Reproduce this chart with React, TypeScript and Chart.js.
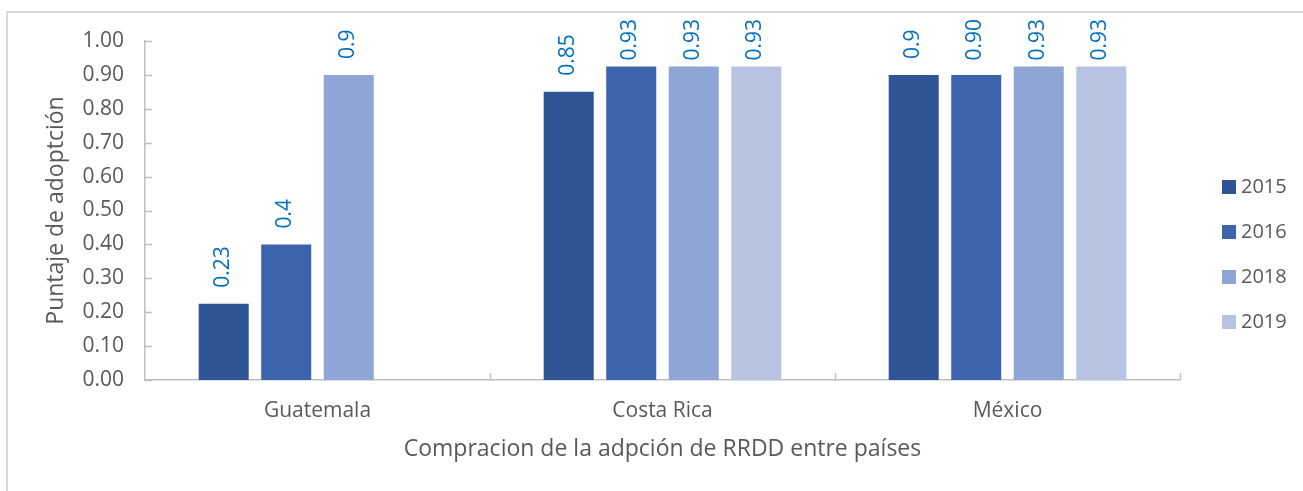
import React, { useEffect, useRef } from "react";
import { Chart, registerables } from "chart.js";

Chart.register(...registerables);

const categories = ["Guatemala", "Costa Rica", "México"];
const seriesNames = ["2015", "2016", "2018", "2019"];
const values2015 = [0.225, 0.85, 0.9];
const values2016 = [0.4, 0.925, 0.9];
const values2018 = [0.9, 0.925, 0.925];
const values2019 = [null, 0.925, 0.925];
const labels2015 = ["0.23", "0.85", "0.9"];
const labels2016 = ["0.4", "0.93", "0.90"];
const labels2018 = ["0.9", "0.93", "0.93"];
const labels2019 = ["", "0.93", "0.93"];
const seriesColors = ["#2F5597", "#3B64AD", "#8FA5D5", "#B8C3E3"];
const yTitle = "Puntaje de adoptción";
const xTitle = "Compracion de la adpción de RRDD entre países";

const seriesValues = [values2015, values2016, values2018, values2019];
const seriesLabels = [labels2015, labels2016, labels2018, labels2019];

const FONT = '"Open Sans", "Liberation Sans", sans-serif';
const AXIS_GRAY = "#BFBFBF";
const TEXT_GRAY = "#595959";
const LABEL_BLUE = "#0070C0";

const decorPlugin = {
  id: "decor",
  beforeDraw(chart: any) {
    const ctx = chart.ctx;
    ctx.save();
    ctx.fillStyle = "#FFFFFF";
    ctx.fillRect(0, 0, chart.width, chart.height);
    ctx.strokeStyle = "#D9D9D9";
    ctx.lineWidth = 2;
    ctx.beginPath();
    ctx.moveTo(7, chart.height + 2);
    ctx.lineTo(7, 12);
    ctx.lineTo(chart.width + 2, 12);
    ctx.stroke();
    ctx.restore();
  },
  afterDraw(chart: any) {
    const ctx = chart.ctx;
    const xs = chart.scales.x;
    const ys = chart.scales.y;
    const area = chart.chartArea;
    ctx.save();
    // inner tick marks
    ctx.strokeStyle = AXIS_GRAY;
    ctx.lineWidth = 1.5;
    ctx.beginPath();
    ys.ticks.forEach((t: any) => {
      const py = Math.round(ys.getPixelForValue(t.value)) + 0.5;
      ctx.moveTo(area.left, py);
      ctx.lineTo(area.left + 7, py);
    });
    for (let i = 0; i < categories.length; i++) {
      const px = Math.round(xs.getPixelForValue(i + 0.5)) + 0.5;
      ctx.moveTo(px, area.bottom);
      ctx.lineTo(px, area.bottom - 7);
    }
    ctx.stroke();

    // data labels (rotated)
    ctx.font = "21px " + FONT;
    ctx.fillStyle = LABEL_BLUE;
    ctx.textAlign = "left";
    ctx.textBaseline = "middle";
    chart.data.datasets.forEach((ds: any, i: number) => {
      const meta = chart.getDatasetMeta(i);
      meta.data.forEach((el: any, j: number) => {
        const v = ds.data[j];
        if (v === null || v === undefined) return;
        const text = seriesLabels[i][j];
        const w = ctx.measureText(text).width;
        const yb = Math.max(el.y - 16, 19 + w);
        ctx.save();
        ctx.translate(el.x - 1, yb);
        ctx.rotate(-Math.PI / 2);
        ctx.fillText(text, 0, 0);
        ctx.restore();
      });
    });

    // legend
    ctx.textBaseline = "middle";
    ctx.font = "20px " + FONT;
    seriesNames.forEach((name, i) => {
      const cy = 187 + i * 45;
      ctx.fillStyle = seriesColors[i];
      ctx.fillRect(1222, cy - 7, 14, 14);
      ctx.fillStyle = TEXT_GRAY;
      ctx.fillText(name, 1241, cy);
    });
    ctx.restore();
  },
};

export default function App() {
  const ref = useRef<HTMLCanvasElement | null>(null);
  useEffect(() => {
    if (!ref.current) return;
    const chart = new Chart(ref.current, {
      type: "bar",
      data: {
        labels: categories,
        datasets: seriesNames.map((name, i) => ({
          label: name,
          data: seriesValues[i],
          backgroundColor: seriesColors[i],
          borderWidth: 0,
          categoryPercentage: 0.725,
          barPercentage: 0.8,
        })),
      },
      options: {
        responsive: false,
        animation: false,
        layout: { padding: { top: 41, right: 123, bottom: 0, left: 0 } },
        plugins: {
          legend: { display: false },
          tooltip: { enabled: false },
        },
        scales: {
          x: {
            grid: { display: false, drawTicks: false },
            border: { display: true, color: AXIS_GRAY, width: 1.5 },
            ticks: { color: TEXT_GRAY, font: { family: FONT, size: 21 }, padding: 18 },
            title: {
              display: true,
              text: xTitle,
              color: TEXT_GRAY,
              font: { family: FONT, size: 23 },
              padding: { top: 0, bottom: 28 },
            },
            afterFit: (s: any) => {
              s.height = 111;
            },
          },
          y: {
            min: 0,
            max: 1,
            ticks: {
              stepSize: 0.1,
              color: TEXT_GRAY,
              font: { family: FONT, size: 21 },
              padding: 21,
              callback: (v: any) => Number(v).toFixed(2),
            },
            grid: { display: false, drawTicks: false },
            border: { display: true, color: AXIS_GRAY, width: 1.5 },
            title: {
              display: true,
              text: yTitle,
              color: TEXT_GRAY,
              font: { family: FONT, size: 23 },
              padding: { top: 43, bottom: 0 },
            },
            afterFit: (s: any) => {
              s.width = 145;
            },
          },
        },
      },
      plugins: [decorPlugin],
    } as any);
    return () => chart.destroy();
  }, []);
  return (
    <div style={{ position: "fixed", left: 0, top: 0, width: 1303, height: 491, overflow: "hidden" }}>
      <canvas ref={ref} width={1303} height={491} style={{ display: "block" }} />
    </div>
  );
}
